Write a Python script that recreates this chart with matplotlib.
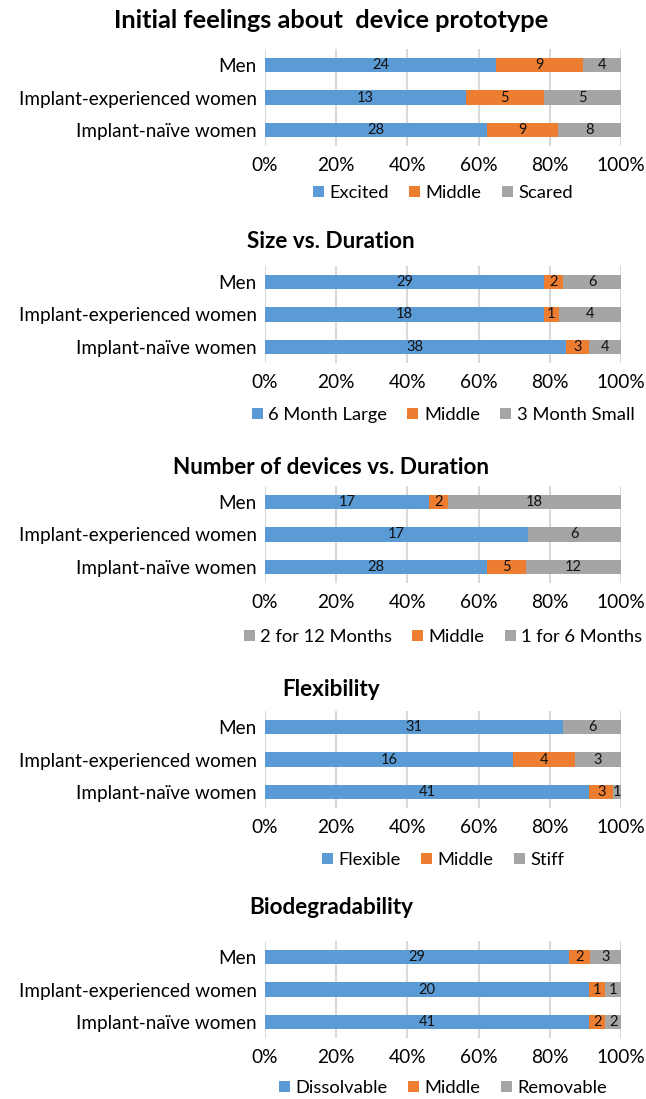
import numpy as np
import matplotlib.pyplot as plt
from matplotlib.patches import Patch

plt.rcParams['font.family'] = ['Lato', 'DejaVu Sans']

groups = ["Men", "Implant-experienced women", "Implant-naïve women"]

feel_titles = "Initial feelings about  device prototype"
feel_labels = ["Excited", "Middle", "Scared"]
feel_excited = [24, 13, 28]
feel_middle = [9, 5, 9]
feel_scared = [4, 5, 8]

size_title = "Size vs. Duration"
size_labels = ["6 Month Large", "Middle", "3 Month Small"]
size_large = [29, 18, 38]
size_middle = [2, 1, 3]
size_small = [6, 4, 4]

num_title = "Number of devices vs. Duration"
num_labels = ["2 for 12 Months", "Middle", "1 for 6 Months"]
num_two = [17, 17, 28]
num_middle = [2, 0, 5]
num_one = [18, 6, 12]

flex_title = "Flexibility"
flex_labels = ["Flexible", "Middle", "Stiff"]
flex_flexible = [31, 16, 41]
flex_middle = [0, 4, 3]
flex_stiff = [6, 3, 1]

bio_title = "Biodegradability"
bio_labels = ["Dissolvable", "Middle", "Removable"]
bio_dissolvable = [29, 20, 41]
bio_middle = [2, 1, 2]
bio_removable = [3, 1, 2]

BLUE = "#5B9BD5"
ORANGE = "#ED7D31"
GRAY = "#A5A5A5"
colors = [BLUE, ORANGE, GRAY]

W, H = 646, 1099
fig = plt.figure(figsize=(W / 100, H / 100), dpi=100)


def panel(title, series, labels, top, title_y, legend_y, legend_colors=None, title_size=16.2):
    # top / title_y / legend_y in pixels from the top of the figure
    left, right = 265, 621
    h = 97
    ax = fig.add_axes([left / W, 1 - (top + h) / H, (right - left) / W, h / H])
    counts = np.array(series, dtype=float)
    totals = counts.sum(axis=0)
    y = np.arange(len(groups))
    start = np.zeros(len(groups))
    for k in range(counts.shape[0]):
        frac = counts[k] / totals
        ax.barh(y, frac, left=start, height=0.44, color=colors[k], zorder=3)
        for i in range(len(groups)):
            if counts[k][i] > 0:
                ax.text(start[i] + frac[i] / 2, y[i], f"{int(counts[k][i])}",
                        ha="center", va="center", fontsize=10.5, color="#111111", zorder=4)
        start += frac
    ax.set_xlim(0, 1)
    ax.set_ylim(len(groups) - 0.5, -0.5)
    ax.set_yticks(y)
    ax.set_yticklabels(groups, fontsize=13.6)
    ax.set_xticks(np.linspace(0, 1, 6))
    ax.set_xticklabels([f"{p}%" for p in range(0, 101, 20)], fontsize=13.8)
    ax.tick_params(length=0, pad=6)
    ax.tick_params(axis="x", pad=8)
    ax.grid(axis="x", color="#D9D9D9", linewidth=1.5, zorder=0)
    for s in ax.spines.values():
        s.set_visible(False)
    fig.text(331 / W, 1 - title_y / H, title, fontsize=title_size, fontweight="bold",
             ha="center", va="center")
    lc = legend_colors or colors
    handles = [Patch(facecolor=c, edgecolor="none") for c in lc]
    ax.legend(handles, labels, loc="center",
              bbox_to_anchor=(0.5, -(legend_y - top - h) / h),
              ncol=3, frameon=False, fontsize=13.2, handlelength=0.6,
              handleheight=0.6, handletextpad=0.3, columnspacing=1.1,
              borderaxespad=0, borderpad=0)
    return ax


panel(feel_titles, [feel_excited, feel_middle, feel_scared], feel_labels, 49, 20, 193,
      title_size=18.3)
panel(size_title, [size_large, size_middle, size_small], size_labels, 266, 242, 415)
panel(num_title, [num_two, num_middle, num_one], num_labels, 486, 467, 637,
      legend_colors=[GRAY, ORANGE, GRAY])
panel(flex_title, [flex_flexible, flex_middle, flex_stiff], flex_labels, 711, 689, 860)
panel(bio_title, [bio_dissolvable, bio_middle, bio_removable], bio_labels, 941, 908, 1088)

fig.savefig("out.png", dpi=100)
